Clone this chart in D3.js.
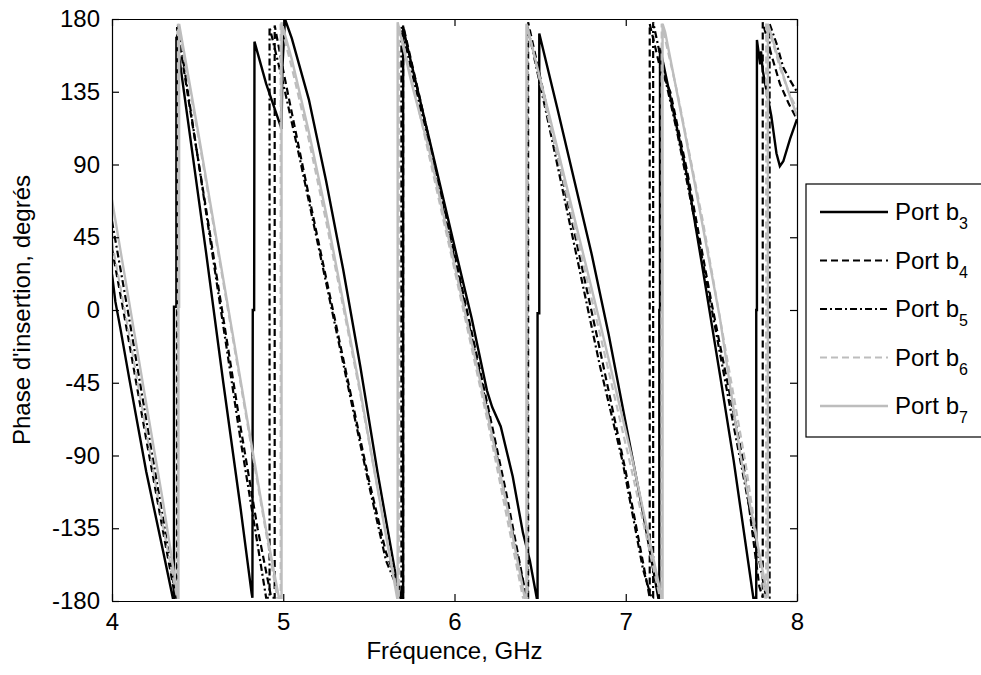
<!DOCTYPE html>
<html><head><meta charset="utf-8">
<script src="https://cdn.jsdelivr.net/npm/d3@7"></script>
<style>
html,body{margin:0;padding:0;background:#fff;}
svg text{font-family:"Liberation Sans",Arial,Helvetica,sans-serif;fill:#000;}
</style></head>
<body>
<script>
// ---- data (frequency GHz, phase degrees) ----
const freqTicks = [4, 5, 6, 7, 8];
const phaseTicks = [-180, -135, -90, -45, 0, 45, 90, 135, 180];
const legendBase = "Port b";
const legendSubs = ["3", "4", "5", "6", "7"];

const portB3 = [
[4.00,22],[4.02,5],[4.05,-12],[4.10,-42],[4.20,-100],[4.30,-150],[4.355,-178],
[4.362,-178],[4.362,2],[4.376,2],[4.376,169],
[4.45,112],[4.55,35],[4.65,-45],[4.75,-122],[4.815,-175],
[4.82,-178],[4.822,0],[4.83,0],[4.832,166],
[4.90,140],[4.99,112],[4.995,150],[5.01,180],
[5.05,168],[5.15,130],[5.25,80],[5.35,25],[5.45,-35],[5.55,-100],[5.65,-160],[5.685,-178],
[5.70,-178],[5.70,175],[5.72,165],[5.85,107],[6.01,35],[6.10,-5],[6.19,-50],[6.22,-60],[6.27,-72],[6.34,-103],[6.40,-138],[6.44,-155],[6.48,-178],
[6.485,-178],[6.485,-2],[6.495,-2],[6.495,171],
[6.6,125],[6.7,80],[6.8,35],[6.9,-15],[7.0,-70],[7.1,-125],[7.19,-178],
[7.196,-178],[7.196,0],[7.20,0],[7.20,162],
[7.28,122],[7.36,82],[7.45,25],[7.55,-40],[7.63,-93],[7.745,-178],
[7.762,-178],[7.762,0],[7.766,0],[7.766,167],
[7.785,152],[7.79,160],[7.80,148],[7.85,120],[7.88,97],[7.90,89],[7.92,92],[7.96,106],[8.0,118]
];
const portB4 = [
[4.00,38],[4.1,-20],[4.2,-80],[4.3,-138],[4.37,-178],
[4.38,-178],[4.38,175],
[4.45,128],[4.55,62],[4.65,-5],[4.75,-72],[4.85,-135],[4.93,-178],
[4.95,-178],[4.95,176],
[5.0,148],[5.1,96],[5.2,45],[5.3,-5],[5.4,-55],[5.5,-105],[5.6,-150],[5.70,-178],
[5.70,176],[5.8,130],[6.0,35],[6.2,-62],[6.3,-112],[6.42,-178],
[6.43,-178],[6.43,178],[6.55,120],[6.7,48],[6.85,-25],[7.0,-100],[7.14,-178],
[7.14,177],[7.2,150],[7.26,135],[7.36,85],[7.5,5],[7.685,-93],[7.78,-171],[7.80,-178],
[7.80,178],[7.85,158],[7.9,140],[7.95,128],[8.0,118]
];
const portB5 = [
[4.00,55],[4.1,-5],[4.2,-68],[4.3,-130],[4.37,-176],
[4.385,-178],[4.385,176],
[4.45,130],[4.55,60],[4.65,-10],[4.75,-80],[4.85,-145],[4.90,-178],
[4.92,-178],[4.92,175],
[5.0,140],[5.1,92],[5.2,42],[5.3,-8],[5.4,-58],[5.5,-108],[5.6,-155],[5.69,-178],
[5.69,175],[5.8,125],[6.0,32],[6.2,-65],[6.3,-118],[6.42,-178],
[6.425,-178],[6.425,176],[6.55,115],[6.7,40],[6.85,-35],[6.98,-93],[7.10,-160],[7.15,-178],
[7.16,-178],[7.16,178],[7.22,148],[7.3,110],[7.45,30],[7.6,-55],[7.7,-110],[7.82,-178],
[7.84,-178],[7.84,177],[7.88,165],[7.92,150],[7.96,142],[8.0,135]
];
const portB6 = [
[4.00,42],[4.1,-15],[4.2,-75],[4.3,-135],[4.38,-178],
[4.385,-178],[4.385,177],
[4.5,110],[4.6,48],[4.7,-14],[4.8,-76],[4.9,-138],[4.965,-178],
[4.985,-178],[4.985,177],
[5.05,150],[5.15,105],[5.25,55],[5.35,2],[5.45,-52],[5.55,-110],[5.67,-178],
[5.675,-178],[5.675,176],[5.8,120],[6.0,25],[6.2,-72],[6.40,-178],
[6.425,-178],[6.425,176],[6.55,118],[6.7,52],[6.85,-15],[7.03,-97],[7.20,-178],
[7.21,-178],[7.21,177],[7.3,135],[7.45,55],[7.6,-35],[7.7,-95],[7.815,-178],
[7.82,-178],[7.82,178],[7.86,165],[7.9,150],[7.95,135],[8.0,124]
];
const portB7 = [
[4.00,68],[4.1,5],[4.2,-58],[4.3,-120],[4.385,-178],
[4.388,-178],[4.388,2],[4.392,2],[4.392,177],
[4.5,112],[4.6,50],[4.7,-12],[4.8,-74],[4.9,-136],[4.975,-178],
[4.99,-178],[4.99,178],
[5.05,155],[5.15,110],[5.25,60],[5.35,5],[5.45,-50],[5.55,-110],[5.665,-178],
[5.668,-178],[5.668,178],[5.75,140],[5.85,100],[6.0,28],[6.1,-20],[6.2,-68],[6.3,-118],[6.41,-178],
[6.42,-178],[6.42,177],[6.55,122],[6.7,57],[6.85,-8],[7.04,-93],[7.21,-178],
[7.215,-178],[7.215,177],[7.23,172],[7.40,80],[7.55,-5],[7.67,-90],[7.83,-178],
[7.83,177],[7.87,163],[7.92,145],[7.96,132],[8.0,120]
];

// ---- styles ----
const seriesData = [portB3, portB4, portB5, portB6, portB7];
const seriesStyle = [
  {color:"#000000", dash:null, width:2.4},
  {color:"#000000", dash:"7,4", width:2.2},
  {color:"#000000", dash:"7,3,2,3", width:2.2},
  {color:"#bdbdbd", dash:"7,4", width:2.2},
  {color:"#bdbdbd", dash:null, width:2.4}
];

const W = 981, H = 675;
const plot = {left:112, top:19, right:797, bottom:601};
const FS = 24;

const svg = d3.select("body").append("svg").attr("width", W).attr("height", H);

const x = d3.scaleLinear().domain([4, 8]).range([plot.left, plot.right]);
const y = d3.scaleLinear().domain([-180, 180]).range([plot.bottom, plot.top]);

svg.append("defs").append("clipPath").attr("id","clip")
  .append("rect").attr("x", plot.left).attr("y", plot.top)
  .attr("width", plot.right-plot.left).attr("height", plot.bottom-plot.top);

const line = d3.line().x(d => x(d[0])).y(d => y(d[1]));
const g = svg.append("g").attr("clip-path","url(#clip)");
seriesData.forEach((data, i) => {
  const s = seriesStyle[i];
  g.append("path").datum(data).attr("d", line)
    .attr("fill","none").attr("stroke", s.color)
    .attr("stroke-width", s.width)
    .attr("stroke-dasharray", s.dash)
    .attr("stroke-linejoin","miter");
});

// ---- axes (MATLAB box style, ticks inward) ----
const tickLen = 7;
const fmt = d => String(d);
const axB = d3.axisBottom(x).tickValues(freqTicks).tickSizeInner(-tickLen).tickSizeOuter(0).tickPadding(12).tickFormat(fmt);
const axT = d3.axisTop(x).tickValues(freqTicks).tickSizeInner(-tickLen).tickSizeOuter(0).tickFormat("");
const axL = d3.axisLeft(y).tickValues(phaseTicks).tickSizeInner(-tickLen).tickSizeOuter(0).tickPadding(12).tickFormat(fmt);
const axR = d3.axisRight(y).tickValues(phaseTicks).tickSizeInner(-tickLen).tickSizeOuter(0).tickFormat("");

function style(sel){
  sel.selectAll("path.domain").attr("stroke","#000").attr("stroke-width",1.2);
  sel.selectAll(".tick line").attr("stroke","#000").attr("stroke-width",1.2);
  sel.selectAll(".tick text").attr("font-size",FS).attr("font-family",'"Liberation Sans",Arial,sans-serif').attr("fill","#000");
}
svg.append("g").attr("transform",`translate(0,${plot.bottom})`).call(axB).call(style);
svg.append("g").attr("transform",`translate(0,${plot.top})`).call(axT).call(style);
svg.append("g").attr("transform",`translate(${plot.left},0)`).call(axL).call(style);
svg.append("g").attr("transform",`translate(${plot.right},0)`).call(axR).call(style);

// ---- axis labels ----
svg.append("text").attr("x", (plot.left+plot.right)/2).attr("y", 659)
  .attr("text-anchor","middle").attr("font-size",FS).text("Fréquence, GHz");
svg.append("text").attr("transform",`translate(30,${(plot.top+plot.bottom)/2}) rotate(-90)`)
  .attr("text-anchor","middle").attr("font-size",FS).text("Phase d'insertion, degrés");

// ---- legend ----
const leg = svg.append("g");
leg.append("rect").attr("x",806).attr("y",184).attr("width",190).attr("height",253)
  .attr("fill","#fff").attr("stroke","#000").attr("stroke-width",1.2);
legendSubs.forEach((sub, i) => {
  const yy = 212 + i*48.5;
  const s = seriesStyle[i];
  leg.append("line").attr("x1",820).attr("x2",888).attr("y1",yy).attr("y2",yy)
    .attr("stroke",s.color).attr("stroke-width",s.width).attr("stroke-dasharray",s.dash);
  const t = leg.append("text").attr("x",895).attr("y",yy+8).attr("font-size",FS);
  t.append("tspan").text(legendBase);
  t.append("tspan").attr("font-size",16).attr("dy",9).text(sub);
});
</script>
</body></html>
